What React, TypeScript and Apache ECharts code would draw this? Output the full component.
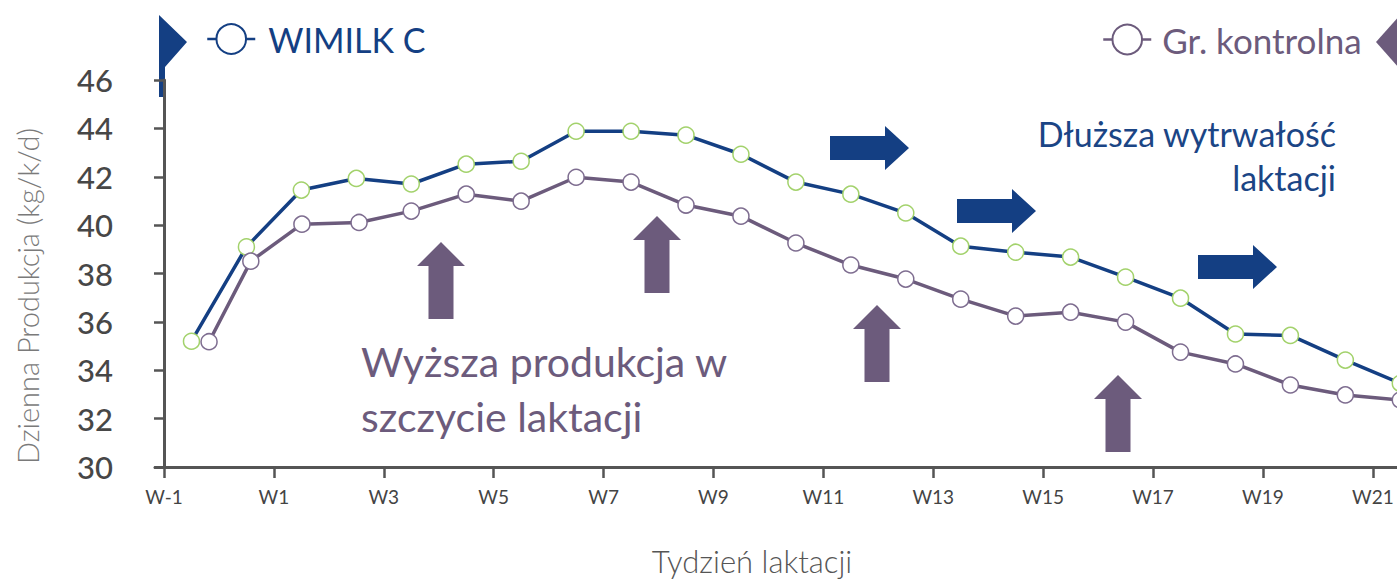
import React, { useEffect, useRef } from 'react';
import * as echarts from 'echarts';

// x positions in "axis units": 0 = W-1 tick, 2 = W1 tick, ...
const wimilkPos = [0.5, 1.5, 2.5, 3.5, 4.5, 5.5, 6.5, 7.5, 8.5, 9.5, 10.5, 11.5, 12.5, 13.5, 14.5, 15.5, 16.5, 17.5, 18.5, 19.5, 20.5, 21.5, 22.5];
const kontrolPos = [0.82, 1.58, 2.51, 3.55, 4.5, 5.5, 6.5, 7.5, 8.5, 9.5, 10.5, 11.5, 12.5, 13.5, 14.5, 15.5, 16.5, 17.5, 18.5, 19.5, 20.5, 21.5, 22.5];
const wimilk = [35.2, 39.1, 41.45, 41.93, 41.7, 42.52, 42.64, 43.88, 43.88, 43.72, 42.93, 41.78, 41.28, 40.5, 39.13, 38.88, 38.68, 37.85, 36.98, 35.5, 35.44, 34.42, 33.46];
const kontrol = [35.18, 38.51, 40.04, 40.11, 40.58, 41.28, 40.99, 41.98, 41.78, 40.83, 40.37, 39.26, 38.35, 37.77, 36.94, 36.24, 36.4, 35.99, 34.75, 34.26, 33.39, 32.98, 32.77];
const tickValues = [0, 2, 4, 6, 8, 10, 12, 14, 16, 18, 20, 22];
const tickLabels = ['W-1', 'W1', 'W3', 'W5', 'W7', 'W9', 'W11', 'W13', 'W15', 'W17', 'W19', 'W21'];

const BLUE = '#143f83';
const PURPLE = '#6c5b7c';
const FONT = 'Lato, "Open Sans", sans-serif';

function arrowRight(x0: number, cy: number) {
  return [[x0, cy - 12], [x0 + 55, cy - 12], [x0 + 55, cy - 22], [x0 + 79, cy], [x0 + 55, cy + 22], [x0 + 55, cy + 12], [x0, cy + 12]];
}
function arrowUp(cx: number, top: number) {
  return [[cx, top], [cx + 24, top + 24], [cx + 12.5, top + 24], [cx + 12.5, top + 77], [cx - 12.5, top + 77], [cx - 12.5, top + 24], [cx - 24, top + 24]];
}

export default function App() {
  const ref = useRef<HTMLDivElement>(null);
  useEffect(() => {
    if (!ref.current) return;
    const chart = echarts.init(ref.current, null, { renderer: 'svg' });
    const option: any = {
      animation: false,
      backgroundColor: '#ffffff',
      grid: { left: 155, top: 80, right: 0, bottom: 112, containLabel: false },
      legend: [
        {
          data: [{ name: 'WIMILK C', itemStyle: { color: '#ffffff', borderColor: BLUE, borderWidth: 2 }, lineStyle: { color: BLUE, width: 2.5 } }],
          left: 206, top: 22, padding: 0, itemWidth: 48, itemHeight: 37,
          textStyle: { color: BLUE, fontSize: 34, fontFamily: FONT, padding: [0, 0, 0, 8] },
        },
        {
          data: [{ name: 'Gr. kontrolna', itemStyle: { color: '#ffffff', borderColor: PURPLE, borderWidth: 2 }, lineStyle: { color: PURPLE, width: 2.5 } }],
          left: 1102, top: 22, padding: 0, itemWidth: 48, itemHeight: 37,
          textStyle: { color: PURPLE, fontSize: 35, fontFamily: FONT, padding: [0, 0, 0, 6] },
        },
      ],
      xAxis: {
        type: 'value',
        min: -0.1638,
        max: 22.44,
        splitLine: { show: false },
        axisLine: { show: true, lineStyle: { color: '#555555', width: 3 } },
        axisTick: { show: true, length: 11, customValues: tickValues, lineStyle: { color: '#555555', width: 2.5 } },
        axisLabel: {
          customValues: tickValues,
          margin: 20,
          color: '#444444',
          fontSize: 19,
          fontFamily: FONT,
          formatter: (v: number) => {
            const i = tickValues.indexOf(Math.round(v));
            return i >= 0 ? tickLabels[i] : '';
          },
        },
      },
      yAxis: {
        type: 'value',
        min: 30,
        max: 46,
        interval: 2,
        splitLine: { show: false },
        axisLine: { show: true, lineStyle: { color: '#555555', width: 3 } },
        axisTick: { show: true, length: 10, lineStyle: { color: '#555555', width: 2.5 } },
        axisLabel: { margin: 42, color: '#474747', fontSize: 31, fontWeight: 500, fontFamily: FONT },
      },
      series: [
        {
          name: 'WIMILK C',
          type: 'line',
          clip: false,
          data: wimilk.map((v, i) => [wimilkPos[i], v]),
          symbol: 'circle',
          symbolSize: 16,
          lineStyle: { color: BLUE, width: 3.5 },
          itemStyle: { color: '#ffffff', borderColor: '#a3d26c', borderWidth: 1.5 },
          z: 2,
        },
        {
          name: 'Gr. kontrolna',
          type: 'line',
          clip: false,
          data: kontrol.map((v, i) => [kontrolPos[i], v]),
          symbol: 'circle',
          symbolSize: 16,
          lineStyle: { color: PURPLE, width: 3.5 },
          itemStyle: { color: '#ffffff', borderColor: '#7e6d90', borderWidth: 1.5 },
          z: 3,
        },
      ],
      graphic: [
        { type: 'polygon', shape: { points: [[159, 15], [187, 42], [165, 67], [165, 97], [159, 97]] }, style: { fill: BLUE } },
        { type: 'polygon', shape: { points: [[1376, 42], [1400, 15], [1400, 69]] }, style: { fill: PURPLE } },
        { type: 'polygon', shape: { points: arrowRight(830, 148) }, style: { fill: BLUE } },
        { type: 'polygon', shape: { points: arrowRight(957, 211) }, style: { fill: BLUE } },
        { type: 'polygon', shape: { points: arrowRight(1198, 267) }, style: { fill: BLUE } },
        { type: 'polygon', shape: { points: arrowUp(441, 242) }, style: { fill: PURPLE } },
        { type: 'polygon', shape: { points: arrowUp(657, 216) }, style: { fill: PURPLE } },
        { type: 'polygon', shape: { points: arrowUp(877, 305) }, style: { fill: PURPLE } },
        { type: 'polygon', shape: { points: arrowUp(1118, 375) }, style: { fill: PURPLE } },
        { type: 'text', x: 1336, y: 133, style: { text: 'Dłuższa wytrwałość', fill: '#1b4585', font: `34px ${FONT}`, textAlign: 'right', textVerticalAlign: 'middle' } },
        { type: 'text', x: 1336, y: 177, style: { text: 'laktacji', fill: '#1b4585', font: `34px ${FONT}`, textAlign: 'right', textVerticalAlign: 'middle' } },
        { type: 'text', x: 361, y: 361, style: { text: 'Wyższa produkcja w', fill: PURPLE, font: `41px ${FONT}`, textAlign: 'left', textVerticalAlign: 'middle' } },
        { type: 'text', x: 361, y: 416, style: { text: 'szczycie laktacji', fill: PURPLE, font: `41px ${FONT}`, textAlign: 'left', textVerticalAlign: 'middle' } },
        { type: 'text', x: 27, y: 296, rotation: Math.PI / 2, style: { text: 'Dzienna Produkcja (kg/k/d)', fill: '#7a7a7a', font: `300 29px ${FONT}`, textAlign: 'center', textVerticalAlign: 'middle' } },
        { type: 'text', x: 752, y: 561, style: { text: 'Tydzień laktacji', fill: '#555555', font: `300 31px ${FONT}`, textAlign: 'center', textVerticalAlign: 'middle' } },
      ],
    };
    chart.setOption(option);
    return () => chart.dispose();
  }, []);
  return <div ref={ref} style={{ position: 'absolute', left: 0, top: 0, width: 1397, height: 579 }} />;
}
